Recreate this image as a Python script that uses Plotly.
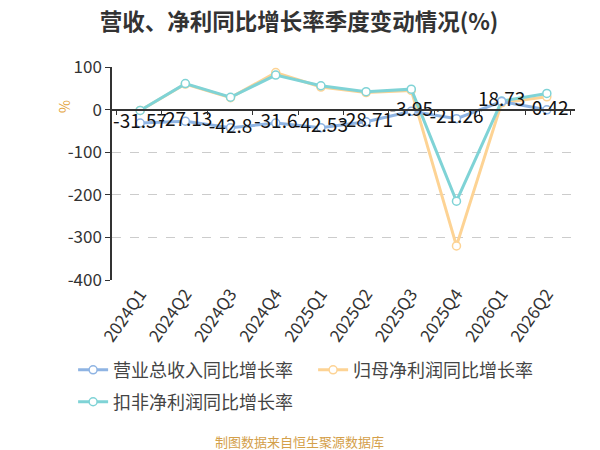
import plotly.graph_objects as go

categories = ["2024Q1", "2024Q2", "2024Q3", "2024Q4", "2025Q1", "2025Q2",
              "2025Q3", "2025Q4", "2026Q1", "2026Q2"]
revenue_growth = [-31.57, -27.13, -42.8, -31.6, -42.53, -28.71, -3.95, -21.26, 18.73, -0.42]
net_profit_growth = [-2, 60, 28, 87, 53, 40, 45, -320, 16, 30]
deducted_profit_growth = [-2, 61, 29, 81, 56, 42, 48, -215, 20, 38]
series_names = ["营业总收入同比增长率", "归母净利润同比增长率", "扣非净利润同比增长率"]
y_ticks = [100, 0, -100, -200, -300, -400]
y_tick_labels = [str(v) for v in y_ticks]

FONT = "Noto Sans CJK SC"
BLUE = "#8fb4e3"
ORANGE = "#fdd394"
CYAN = "#7fd3d6"

fig = go.Figure()

def add_series(name, values, color, legend, rank, text=None):
    fig.add_trace(go.Scatter(
        x=categories, y=values, name=name, legend=legend, legendrank=rank,
        mode="lines+markers+text" if text else "lines+markers",
        line=dict(color=color, width=3),
        marker=dict(size=8, color="white", line=dict(color=color, width=1.5)),
        text=text, textposition="middle center",
        textfont=dict(family=FONT, size=19, color="#111111"),
        cliponaxis=False,
    ))

add_series(series_names[1], net_profit_growth, ORANGE, "legend", 2)
add_series(series_names[2], deducted_profit_growth, CYAN, "legend2", 3)
add_series(series_names[0], revenue_growth, BLUE, "legend", 1,
           text=[f"{v:g}" for v in revenue_growth])

# secondary x axis sitting on the zero line for the boundary ticks
fig.add_trace(go.Scatter(x=categories, y=[None]*len(categories), xaxis="x2",
                         showlegend=False, hoverinfo="skip"))

legend_common = dict(orientation="h", xanchor="left", yanchor="middle",
                     font=dict(size=18, color="#444444"), entrywidth=195,
                     bgcolor="rgba(0,0,0,0)")

fig.update_layout(
    width=600, height=450,
    margin=dict(l=104, r=33, t=59, b=178, autoexpand=False),
    paper_bgcolor="white", plot_bgcolor="white",
    font=dict(family=FONT, color="#333333"),
    title=dict(text="<b>营收、净利同比增长率季度变动情况(%)</b>", x=0.485, xanchor="center",
               xref="container", y=0.968, yanchor="middle",
               font=dict(size=22.5, color="#333333")),
    xaxis=dict(type="category", showline=False, ticks="", showgrid=False,
               tickangle=-55, tickfont=dict(size=17, color="#333333"),
               zeroline=False),
    xaxis2=dict(type="category", overlaying="x", anchor="free", position=0.8,
                side="bottom", showline=True, linecolor="#333333", linewidth=1.5,
                ticks="outside", ticklen=5, tickcolor="#333333", tickson="boundaries",
                showticklabels=False, showgrid=False, zeroline=False),
    yaxis=dict(range=[-400, 100], tickvals=y_ticks, ticktext=y_tick_labels,
               showline=True, linecolor="#333333",
               linewidth=1.5, ticks="outside", ticklen=5, tickcolor="#333333",
               tickfont=dict(size=17, color="#333333"),
               showgrid=True, gridcolor="#cccccc", griddash="dash", gridwidth=1,
               zeroline=False),
    legend=dict(x=-0.084, y=-0.423, **legend_common),
    legend2=dict(x=-0.084, y=-0.573, **legend_common),
    showlegend=True,
)

fig.add_annotation(text="%", xref="paper", yref="paper", x=-0.128, y=0.855,
                   textangle=-90, showarrow=False,
                   font=dict(family=FONT, size=14, color="#e3a33b"))
fig.add_annotation(text="制图数据来自恒生聚源数据库", xref="paper", yref="paper",
                   x=0.406, xanchor="center", y=-0.76, yanchor="middle", showarrow=False,
                   font=dict(family=FONT, size=13, color="#d4a04a"))

fig.write_html("out.html")
